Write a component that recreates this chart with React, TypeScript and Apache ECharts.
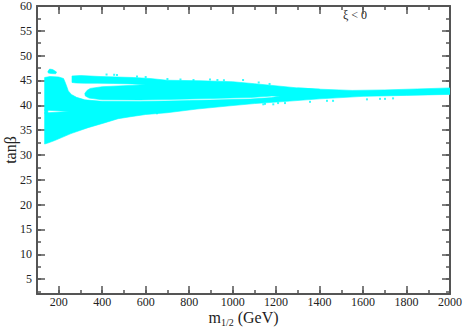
import React, { useEffect, useRef } from "react";
import * as echarts from "echarts";

// ---- data ----
const X_RANGE = [100, 2000];
const Y_RANGE = [2, 60];
const X_MAJOR = 200;
const X_MINOR = 100;
const Y_MAJOR = 5;
const Y_MINOR = 2.5;

const annotation = "ξ < 0";
const xTitle = "{i|m}{s|1/2}{i| (GeV)}";
const yTitle = "tanβ";

// lower / left connected region (upper-left lobe + band below the thin white line)
const lowerRegion: number[][] = [
  [135, 32.2], [135, 38.5], [150, 38.5], [250, 38.75], [150, 39.0], [135, 39.0],
  [135, 45.6], [160, 45.8], [200, 45.7], [222, 45.4], [228, 44.8], [236, 43.9],
  [244, 42.9], [258, 42.2], [282, 41.6], [320, 41.1], [400, 40.8], [574, 40.75],
  [800, 40.95], [1080, 41.25], [1180, 41.55], [1230, 42.0], [1300, 43.5],
  [1400, 43.25], [1550, 43.0], [1700, 43.1], [1850, 43.3], [2000, 43.5],
  [2000, 42.2], [1800, 42.0], [1600, 41.8], [1400, 41.3], [1218, 40.7],
  [1100, 40.35], [988, 39.9], [836, 39.25], [698, 38.5], [600, 38.15],
  [530, 37.7], [473, 37.3], [413, 36.5], [335, 35.5], [256, 34.3], [181, 32.9],
  [150, 32.4],
];

// upper region: top strip + middle lobe, merging into the band on the right
const upperRegion: number[][] = [
  [261, 45.9], [300, 46.0], [390, 45.8], [543, 45.6], [620, 45.4], [698, 45.05],
  [850, 44.95], [1000, 44.75], [1100, 44.35], [1218, 43.85], [1300, 43.5],
  [1400, 43.25], [1400, 42.0], [1250, 41.85], [1180, 41.85], [1080, 41.55],
  [800, 41.25], [574, 41.05], [400, 41.1], [340, 41.45], [322, 41.9], [320, 42.4],
  [330, 43.0], [345, 43.4], [400, 43.75], [500, 43.95], [600, 44.15],
  [540, 44.3], [450, 44.4], [380, 44.45], [320, 44.45], [280, 44.5], [261, 44.6],
];

// small blob above the upper-left lobe
const blob: number[][] = [
  [150, 46.8], [158, 47.3], [172, 47.2], [190, 46.7], [186, 46.35], [165, 46.4], [152, 46.5],
];

// sliver left of the white notch
const leftSliver: number[][] = [
  [135, 38.4], [150, 38.4], [150, 39.1], [135, 39.1],
];

const regions = [lowerRegion, upperRegion, blob, leftSliver];

// isolated points
const looseDots: number[][] = [
  [652, 38.4], [1141, 40.2], [1149, 40.3], [1187, 40.2], [1209, 40.45], [1241, 40.45],
  [1356, 40.7], [1434, 40.9], [1462, 40.9], [1618, 41.2], [1678, 41.3], [1701, 41.3],
  [1738, 41.4], [420, 46.2], [455, 46.15], [468, 46.1], [700, 45.3], [760, 45.2],
  [820, 45.1], [896, 45.2], [930, 45.1], [960, 45.05], [1048, 45.1], [1120, 44.6],
  [1170, 44.3], [560, 45.8], [600, 45.7],
];

const CYAN = "#00ffff";
const AXIS = "#555555";
const TEXT = "#222222";
const FONT = '"Liberation Serif", "DejaVu Serif", serif';

function xAxisDef(position: "bottom" | "top", minor: boolean, labeled: boolean): any {
  const base: any = {
    type: "value",
    position,
    min: X_RANGE[0],
    max: X_RANGE[1],
    splitLine: { show: false },
    axisLine: { show: !minor, onZero: false, lineStyle: { color: AXIS, width: 2 } },
    axisTick: { inside: true, length: minor ? 4 : 8, lineStyle: { color: AXIS, width: 1.5 } },
    axisLabel: { show: false },
  };
  if (minor) {
    base.interval = X_MINOR;
  } else {
    base.minInterval = X_MAJOR;
    base.maxInterval = X_MAJOR;
  }
  if (labeled) {
    base.axisLabel = {
      show: true,
      margin: 3,
      color: TEXT,
      fontFamily: FONT,
      fontSize: 12,
      lineHeight: 10,
      formatter: (v: number) => (v === X_RANGE[0] ? "" : String(v)),
    };
    base.name = xTitle;
    base.nameLocation = "middle";
    base.nameGap = 19;
    base.nameMoveOverlap = false;
    base.nameTextStyle = {
      rich: {
        i: { fontFamily: FONT, fontSize: 16, color: TEXT, lineHeight: 14, padding: [0, 0, 2, 0], verticalAlign: "bottom" },
        s: { fontFamily: FONT, fontSize: 10, color: TEXT, lineHeight: 9, verticalAlign: "bottom" },
      },
    };
  }
  return base;
}

function yAxisDef(position: "left" | "right", minor: boolean, labeled: boolean): any {
  const base: any = {
    type: "value",
    position,
    min: Y_RANGE[0],
    max: Y_RANGE[1],
    splitLine: { show: false },
    axisLine: { show: !minor, onZero: false, lineStyle: { color: AXIS, width: 2 } },
    axisTick: { inside: true, length: minor ? 4 : 8, lineStyle: { color: AXIS, width: 1.5 } },
    axisLabel: { show: false },
    minInterval: minor ? Y_MINOR : Y_MAJOR,
    maxInterval: minor ? Y_MINOR : Y_MAJOR,
  };
  if (labeled) {
    base.axisLabel = {
      show: true,
      margin: 5,
      color: TEXT,
      fontFamily: FONT,
      fontSize: 12,
      lineHeight: 9,
      formatter: (v: number) => (v === Y_RANGE[0] ? "" : String(v)),
    };
    base.name = yTitle;
    base.nameLocation = "middle";
    base.nameGap = 19;
    base.nameMoveOverlap = false;
    base.nameTextStyle = { fontFamily: FONT, fontSize: 16, color: TEXT };
  }
  return base;
}

export default function App() {
  const ref = useRef<HTMLDivElement>(null);
  useEffect(() => {
    if (!ref.current) return;
    const chart = echarts.init(ref.current, undefined, { renderer: "svg" });
    chart.setOption({
      animation: false,
      backgroundColor: "#ffffff",
      grid: { left: 37, right: 13, top: 6, bottom: 37, containLabel: false, outerBoundsMode: "none" },
      xAxis: [
        xAxisDef("bottom", false, true),
        xAxisDef("bottom", true, false),
        xAxisDef("top", false, false),
        xAxisDef("top", true, false),
      ],
      yAxis: [
        yAxisDef("left", false, true),
        yAxisDef("left", true, false),
        yAxisDef("right", false, false),
        yAxisDef("right", true, false),
      ],
      graphic: [
        {
          type: "text",
          left: 343,
          top: 9,
          style: { text: annotation, font: `12px ${FONT}`, fill: TEXT },
        },
      ],
      series: [
        {
          type: "custom",
          xAxisIndex: 0,
          yAxisIndex: 0,
          silent: true,
          clip: true,
          data: regions.map((r, i) => [r[0][0], r[0][1], i]),
          encode: { x: 0, y: 1 },
          renderItem: (_params: any, api: any) => {
            const poly = regions[api.value(2)];
            return {
              type: "polygon",
              shape: { points: poly.map((p) => api.coord(p)) },
              style: { fill: CYAN, stroke: CYAN, lineWidth: 0.6 },
            };
          },
        },
        {
          type: "scatter",
          xAxisIndex: 0,
          yAxisIndex: 0,
          silent: true,
          symbol: "rect",
          symbolSize: 2,
          itemStyle: { color: CYAN },
          data: looseDots,
        },
      ],
    });
    return () => chart.dispose();
  }, []);
  return (
    <div
      ref={ref}
      style={{ position: "fixed", left: 0, top: 0, width: 463, height: 331, background: "#fff" }}
    />
  );
}
